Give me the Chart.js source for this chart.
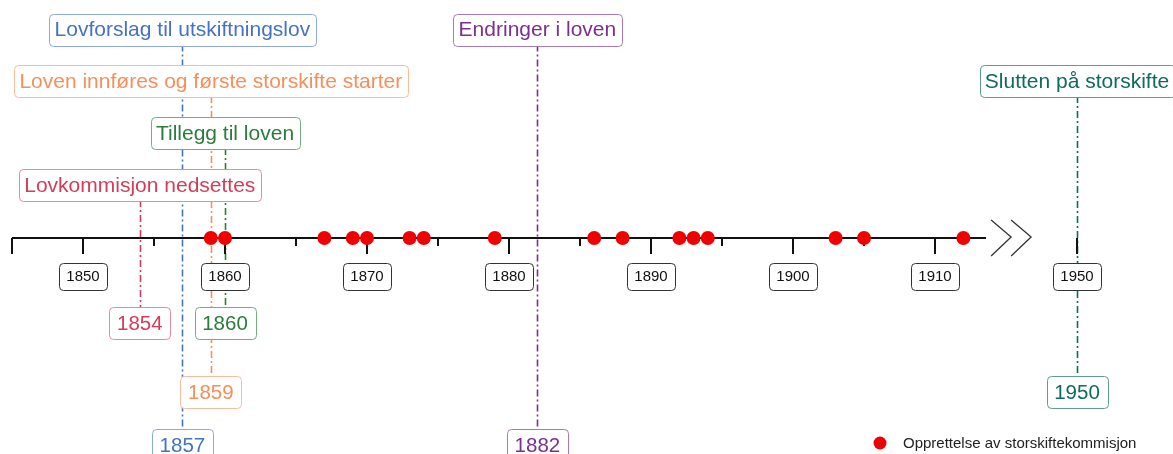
<!DOCTYPE html>
<html><head><meta charset="utf-8">
<script src="https://cdn.jsdelivr.net/npm/chart.js@4/dist/chart.umd.min.js"></script>
<style>html,body{margin:0;padding:0;background:#fff}#wrap{width:1173px;height:454px;position:relative}</style>
</head><body><div id="wrap"><canvas id="c"></canvas></div>
<script>
// ---- data ----
const commissionYears = [1859,1860,1867,1869,1870,1873,1874,1879,1886,1888,1892,1893,1894,1903,1905,1912];
const seriesLabel = "Opprettelse av storskiftekommisjon";
const eventYears = [1857,1859,1860,1854,1882,1950];
const eventLabels = ["Lovforslag til utskiftningslov","Loven innføres og første storskifte starter","Tillegg til loven","Lovkommisjon nedsettes","Endringer i loven","Slutten på storskifte"];
const majorTickYears = [1850,1860,1870,1880,1890,1900,1910,1950];
const minorTickYears = [1855,1865,1875,1885,1895,1905];
const axisSegments = [[1845,1913.6],[1947.5,1955]];

// broken axis: years after the break are shifted left
const BREAK_AFTER = 1930, BREAK_GAP = 30;
function toAxis(yr){ return yr > BREAK_AFTER ? yr - BREAK_GAP : yr; }

// ---- styles / layout ----
const eventStyles = [
  {text:'#4472c4', border:'#8eaadb'},
  {text:'#f68f5c', border:'#f9bd9e'},
  {text:'#2b7d3b', border:'#74ad80'},
  {text:'#d43d5a', border:'#e58c9c'},
  {text:'#7b2f8f', border:'#a87bb8'},
  {text:'#0f6b5e', border:'#5f9c92'}
];
// label box centre heights in y-axis units (axis line at 0)
const eventLevels = [
  {top:208.5, bottom:-207},
  {top:157,   bottom:-154},
  {top:105,   bottom:-85},
  {top:53,    bottom:-85},
  {top:208.5, bottom:-207},
  {top:157,   bottom:-154}
];
const FONT = '"Liberation Sans", Arial, sans-serif';

function roundBox(ctx, cx, cy, w, h, r, stroke){
  const x = Math.round(cx - w/2)+0.5, y = Math.round(cy - h/2)+0.5;
  ctx.beginPath();
  ctx.moveTo(x+r, y); ctx.lineTo(x+w-r, y); ctx.arcTo(x+w, y, x+w, y+r, r);
  ctx.lineTo(x+w, y+h-r); ctx.arcTo(x+w, y+h, x+w-r, y+h, r);
  ctx.lineTo(x+r, y+h); ctx.arcTo(x, y+h, x, y+h-r, r);
  ctx.lineTo(x, y+r); ctx.arcTo(x, y, x+r, y, r);
  ctx.closePath();
  ctx.fillStyle = '#fff'; ctx.fill();
  ctx.lineWidth = 1; ctx.strokeStyle = stroke; ctx.stroke();
}
function labelBox(ctx, text, cx, cy, font, color, border, padX, h){
  ctx.font = font;
  const w = Math.round(ctx.measureText(text).width + padX*2);
  roundBox(ctx, cx, cy, w, h, 4, border);
  ctx.fillStyle = color; ctx.textAlign = 'center'; ctx.textBaseline = 'middle';
  ctx.fillText(text, cx, cy + 1);
}

const timelinePlugin = {
  id: 'timeline',
  beforeDatasetsDraw(chart){
    const {ctx, scales:{x, y}} = chart;
    const y0 = Math.round(y.getPixelForValue(0));
    ctx.save();
    // event lines
    eventYears.forEach((yr, i) => {
      const px = Math.round(x.getPixelForValue(toAxis(yr))) + 0.5;
      ctx.save();
      ctx.strokeStyle = eventStyles[i].text; ctx.lineWidth = 1.6; ctx.setLineDash([7,3,2,3]);
      ctx.beginPath();
      ctx.moveTo(px, y.getPixelForValue(eventLevels[i].top));
      ctx.lineTo(px, y.getPixelForValue(eventLevels[i].bottom));
      ctx.stroke(); ctx.restore();
    });
    // axis segments
    ctx.strokeStyle = '#111'; ctx.lineWidth = 2;
    axisSegments.forEach(([a, b]) => {
      const xa = Math.round(x.getPixelForValue(a)), xb = Math.round(x.getPixelForValue(b));
      ctx.beginPath(); ctx.moveTo(xa, y0); ctx.lineTo(xb, y0); ctx.stroke();
    });
    // ticks
    const tick = (v, len) => {
      const px = Math.round(x.getPixelForValue(v));
      ctx.beginPath(); ctx.moveTo(px, y0); ctx.lineTo(px, y0 + len); ctx.stroke();
    };
    majorTickYears.forEach(v => tick(toAxis(v), 16));
    minorTickYears.forEach(v => tick(toAxis(v), 8));
    tick(axisSegments[0][0], 16);
    tick(axisSegments[1][1], 16);
    // break symbol
    const bx = x.getPixelForValue(axisSegments[0][1]) + 5;
    ctx.strokeStyle = '#333'; ctx.lineWidth = 1.3;
    [0, 20].forEach(off => {
      ctx.beginPath();
      ctx.moveTo(bx + off, y0 - 18); ctx.lineTo(bx + off + 20, y0 - 1); ctx.lineTo(bx + off, y0 + 18);
      ctx.stroke();
    });
    // tick label boxes
    majorTickYears.forEach(v => {
      const px = x.getPixelForValue(toAxis(v));
      labelBox(ctx, String(v), px, y0 + 38, '15px ' + FONT, '#111', '#333', 7.5, 27);
    });
    // event label boxes
    eventYears.forEach((yr, i) => {
      const px = x.getPixelForValue(toAxis(yr));
      const st = eventStyles[i];
      labelBox(ctx, eventLabels[i], px, y.getPixelForValue(eventLevels[i].top), '21px ' + FONT, st.text, st.border, 5.5, 32);
      labelBox(ctx, String(yr), px, y.getPixelForValue(eventLevels[i].bottom), '20.5px ' + FONT, st.text, st.border, 7.5, 32);
    });
    ctx.restore();
  },
  afterDraw(chart){
    const {ctx} = chart;
    const ds = chart.data.datasets[0];
    ctx.save();
    ctx.fillStyle = ds.backgroundColor;
    ctx.beginPath(); ctx.arc(880, 443, 6.5, 0, Math.PI*2); ctx.fill();
    ctx.font = '15px ' + FONT; ctx.fillStyle = '#222'; ctx.textAlign = 'left'; ctx.textBaseline = 'middle';
    ctx.fillText(ds.label, 903, 444);
    ctx.restore();
  }
};

new Chart(document.getElementById('c'), {
  type: 'scatter',
  data: {
    datasets: [{
      label: seriesLabel,
      data: commissionYears.map(v => ({x: toAxis(v), y: 0})),
      backgroundColor: '#f00000', borderColor: '#f00000',
      pointRadius: 7, pointHoverRadius: 7, borderWidth: 0
    }]
  },
  options: {
    responsive: true, maintainAspectRatio: false, animation: false,
    layout: {autoPadding: false, padding: {left: 12, right: 25, top: 0, bottom: 0}},
    scales: {
      x: {type: 'linear', min: 1845, max: 1925, display: false},
      y: {type: 'linear', min: -216, max: 238, display: false}
    },
    plugins: {legend: {display: false}, tooltip: {enabled: false}},
    events: []
  },
  plugins: [timelinePlugin]
});
</script>
</body></html>
